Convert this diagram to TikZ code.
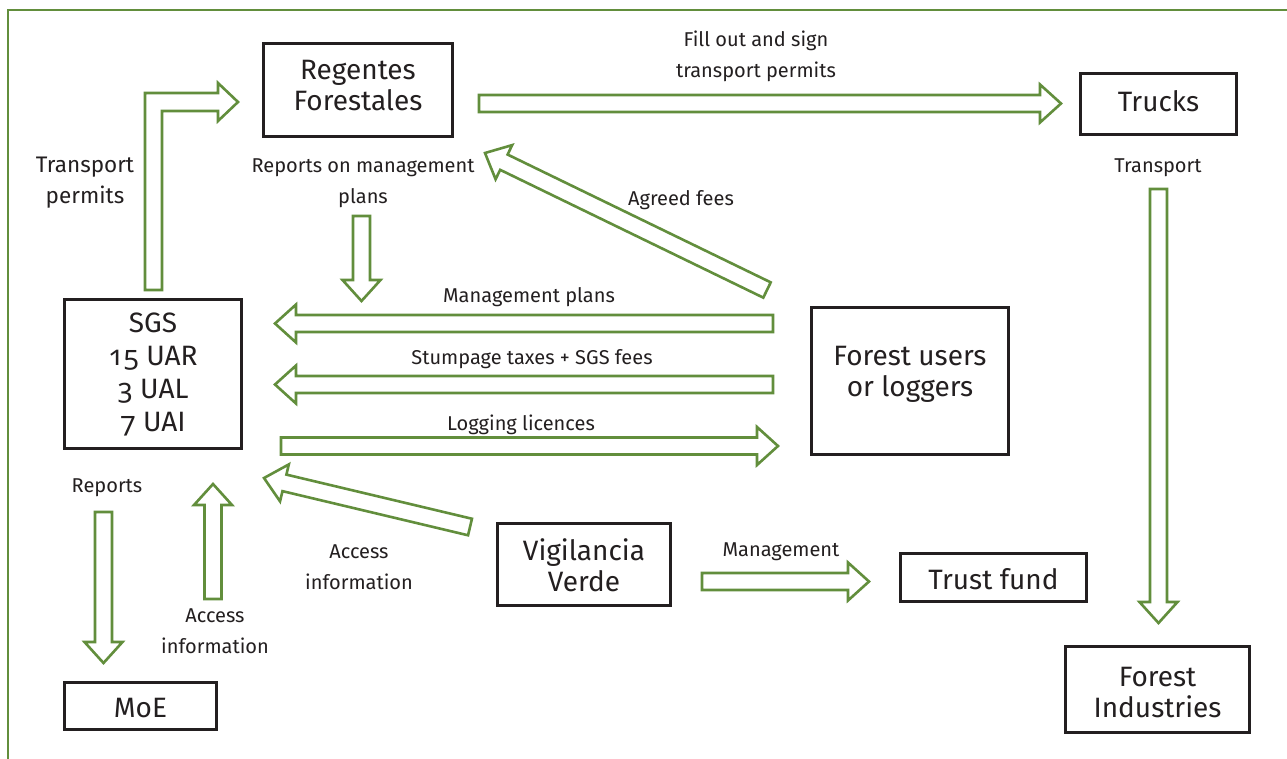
\documentclass[tikz,border=0pt]{standalone}
\usepackage{fontspec}
\setmainfont{Fira Sans}[Numbers=OldStyle]
\newfontfamily\osfnum{Noto Sans}[Numbers=OldStyle]
\usetikzlibrary{calc}
\definecolor{lgreen}{RGB}{98,142,60}
\definecolor{ink}{RGB}{35,31,32}
\tikzset{
  box/.style={draw=ink, line width=2.8pt, inner sep=0pt},
  boxtext/.style={text=ink, align=center, font=\fontsize{28}{31}\selectfont},
  lbl/.style={text=ink, align=center, font=\fontsize{20}{31}\selectfont},
  flow/.style={draw=lgreen, line width=2.6pt, line join=miter, fill=white}
}
\newcommand{\blockarrow}[2]{%
  \path let \p1=(#1), \p2=(#2) in
    \pgfextra{%
      \pgfmathsetmacro{\baangtmp}{atan2(\y2-\y1,\x2-\x1)}%
      \pgfmathsetmacro{\balentmp}{veclen(\x2-\x1,\y2-\y1)}%
      \xdef\baang{\baangtmp}\xdef\balen{\balentmp}\xdef\bax{\x1}\xdef\bay{\y1}};
  \draw[flow, shift={(\bax,\bay)}, rotate=\baang]
    (0pt,-8.5pt) -- ({\balen pt-21pt},-8.5pt) -- ({\balen pt-21pt},-19pt) -- (\balen pt,0pt)
    -- ({\balen pt-21pt},19pt) -- ({\balen pt-21pt},8.5pt) -- (0pt,8.5pt) -- cycle;
}
\begin{document}
\begin{tikzpicture}[x=1pt,y=-1pt]
\useasboundingbox (0,0) rectangle (1287,758);
\fill[white] (0,0) rectangle (1287,758);
% frame
\draw[lgreen, line width=2.5pt] (8,760) -- (8,10) -- (1290,10);

% boxes
\node[box, minimum width=189pt, minimum height=93pt] (reg) at (358,90) {};
\node[boxtext] (regt) at (358,86) {Regentes\\Forestales};
\node[box, minimum width=156pt, minimum height=61pt] (trk) at (1158.5,104) {};
\node[boxtext] (trkt) at (1158.5,101) {Trucks};
\node[box, minimum width=197pt, minimum height=147pt] (fu) at (910,381) {};
\node[boxtext] (fut) at (910,374) {Forest users\\or loggers};
\node[box, minimum width=177pt, minimum height=149pt] (sgs) at (153,374) {};
\node[boxtext, font=\fontsize{28}{33}\selectfont] (sgst) at (153,374) {SGS\\{\osfnum 15} UAR\\{\osfnum 3} UAL\\{\osfnum 7} UAI};
\node[box, minimum width=173pt, minimum height=82pt] (vv) at (584,564.5) {};
\node[boxtext] (vvt) at (584,565) {Vigilancia\\Verde};
\node[box, minimum width=186pt, minimum height=48pt] (tf) at (993.5,577.5) {};
\node[boxtext] (tft) at (993.5,579) {Trust fund};
\node[box, minimum width=152pt, minimum height=47pt] (moe) at (140.5,706) {};
\node[boxtext] (moet) at (140.5,708) {MoE};
\node[box, minimum width=184pt, minimum height=86pt] (fi) at (1157.5,689.5) {};
\node[boxtext] (fit) at (1157.5,693) {Forest\\Industries};

% labels
\node[lbl] (l1) at (756,56) {Fill out and sign\\transport permits};
\node[lbl, font=\fontsize{22.5}{31}\selectfont] (l2) at (85,183) {Transport\\permits};
\node[lbl] (l3) at (363,183) {Reports on management\\plans};
\node[lbl] (l4) at (681,200) {Agreed fees};
\node[lbl] (l5) at (1158,168) {Transport};
\node[lbl] (l6) at (529,297) {Management plans};
\node[lbl] (l7) at (532,359) {Stumpage taxes + SGS fees};
\node[lbl] (l8) at (521,425) {Logging licences};
\node[lbl] (l9) at (107,488) {Reports};
\node[lbl] (l10) at (359,567) {Access\\information};
\node[lbl] (l11) at (215,631) {Access\\information};
\node[lbl] (l12) at (781,552) {Management};

% arrow end points
\coordinate (r2ts) at (479,103.5);  \coordinate (r2te) at (1061,103.5);
\coordinate (rds) at (361.5,216);   \coordinate (rde) at (361.5,301);
\coordinate (ags) at (767,290);     \coordinate (age) at (485,153);
\coordinate (mps) at (773,323.5);   \coordinate (mpe) at (275,323.5);
\coordinate (sts) at (773,384.5);   \coordinate (ste) at (275,384.5);
\coordinate (lls) at (281,446);     \coordinate (lle) at (778,446);
\coordinate (a1s) at (470,527);     \coordinate (a1e) at (264,478);
\coordinate (mgs) at (702,581.5);   \coordinate (mge) at (869,581.5);
\coordinate (trs) at (1158.5,189);  \coordinate (tre) at (1158.5,623);
\coordinate (rps) at (103.5,512);   \coordinate (rpe) at (103.5,663);
\coordinate (a2s) at (213,599);     \coordinate (a2e) at (213,484);

\blockarrow{r2ts}{r2te}
\blockarrow{rds}{rde}
\blockarrow{ags}{age}
\blockarrow{mps}{mpe}
\blockarrow{sts}{ste}
\blockarrow{lls}{lle}
\blockarrow{a1s}{a1e}
\blockarrow{mgs}{mge}
\blockarrow{trs}{tre}
\blockarrow{rps}{rpe}
\blockarrow{a2s}{a2e}

% bent arrow SGS -> Regentes
\draw[flow] (145,290) -- (145,93) -- (218,93) -- (218,83) -- (238,102)
  -- (218,121) -- (218,111) -- (162,111) -- (162,290) -- cycle;
\end{tikzpicture}
\end{document}
